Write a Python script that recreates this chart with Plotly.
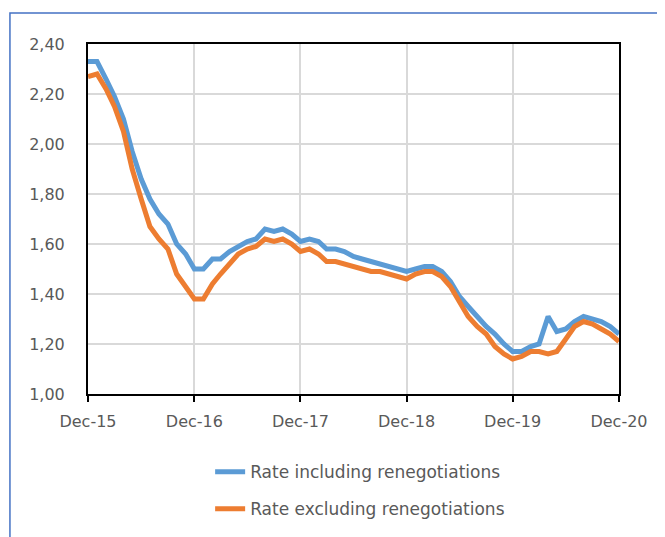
import pandas as pd
import plotly.graph_objects as go


###############################################################################
# data (monthly Dec-15 .. Dec-20)
###############################################################################

months = pd.date_range("2015-12-01", "2020-12-01", freq="MS")

rate_incl = [2.33, 2.33, 2.26, 2.19, 2.10, 1.97, 1.86, 1.78, 1.72, 1.68, 1.60, 1.56,
             1.50, 1.50, 1.54, 1.54, 1.57, 1.59, 1.61, 1.62, 1.66, 1.65, 1.66, 1.64,
             1.61, 1.62, 1.61, 1.58, 1.58, 1.57, 1.55, 1.54, 1.53, 1.52, 1.51, 1.50,
             1.49, 1.50, 1.51, 1.51, 1.49, 1.45, 1.39, 1.35, 1.31, 1.27, 1.24, 1.20,
             1.17, 1.17, 1.19, 1.20, 1.31, 1.25, 1.26, 1.29, 1.31, 1.30, 1.29, 1.27,
             1.24]

rate_excl = [2.27, 2.28, 2.22, 2.15, 2.05, 1.90, 1.78, 1.67, 1.62, 1.58, 1.48, 1.43,
             1.38, 1.38, 1.44, 1.48, 1.52, 1.56, 1.58, 1.59, 1.62, 1.61, 1.62, 1.60,
             1.57, 1.58, 1.56, 1.53, 1.53, 1.52, 1.51, 1.50, 1.49, 1.49, 1.48, 1.47,
             1.46, 1.48, 1.49, 1.49, 1.47, 1.43, 1.37, 1.31, 1.27, 1.24, 1.19, 1.16,
             1.14, 1.15, 1.17, 1.17, 1.16, 1.17, 1.22, 1.27, 1.29, 1.28, 1.26, 1.24,
             1.21]

tick_dates = pd.date_range("2015-12-01", "2020-12-01", freq="12MS")
tick_labels = ["Dec-15", "Dec-16", "Dec-17", "Dec-18", "Dec-19", "Dec-20"]


###############################################################################
###############################################################################

fig = go.Figure()

fig.add_trace(go.Scatter(x=months, y=rate_incl, mode="lines",
                         name="Rate including renegotiations", legendgroup="a",
                         line=dict(color="#5B9BD5", width=5)))
fig.add_trace(go.Scatter(x=months, y=rate_excl, mode="lines",
                         name="Rate excluding renegotiations", legendgroup="b",
                         line=dict(color="#ED7D31", width=5)))

# outer frame of the chart (blue, runs off the right / bottom edge)
fig.add_shape(type="rect", xref="paper", yref="paper",
              x0=-0.147, x1=1.3, y0=-0.7, y1=1.0886,
              line=dict(color="#4472C4", width=1.5), layer="below")

# page has an 8px body margin, so margins are shifted by 8px
fig.update_layout(width=665, height=537,
                  margin=dict(l=80, r=54, t=36, b=151),
                  paper_bgcolor="white", plot_bgcolor="white",
                  separators=",.",
                  font=dict(family="DejaVu Sans", size=16, color="#595959"),
                  showlegend=True,
                  legend=dict(x=0.23, y=-0.172, xanchor="left", yanchor="top",
                              tracegroupgap=12, font=dict(size=17, color="#595959"),
                              bgcolor="rgba(0,0,0,0)"))

fig.update_xaxes(range=[months[0], months[-1]],
                 tickvals=tick_dates, ticktext=tick_labels,
                 showgrid=True, gridcolor="#D9D9D9", gridwidth=1.5,
                 showline=True, linecolor="black", linewidth=2, mirror=True,
                 ticks="outside", ticklen=6, tickcolor="black", tickwidth=1.5,
                 ticklabelstandoff=6, zeroline=False)

fig.update_yaxes(range=[1.0, 2.4], dtick=0.2, tickformat=".2f",
                 showgrid=True, gridcolor="#D9D9D9", gridwidth=1.5,
                 showline=True, linecolor="black", linewidth=2, mirror=True,
                 ticks="", ticklabelstandoff=18, zeroline=False)

fig.write_html("out.html")
